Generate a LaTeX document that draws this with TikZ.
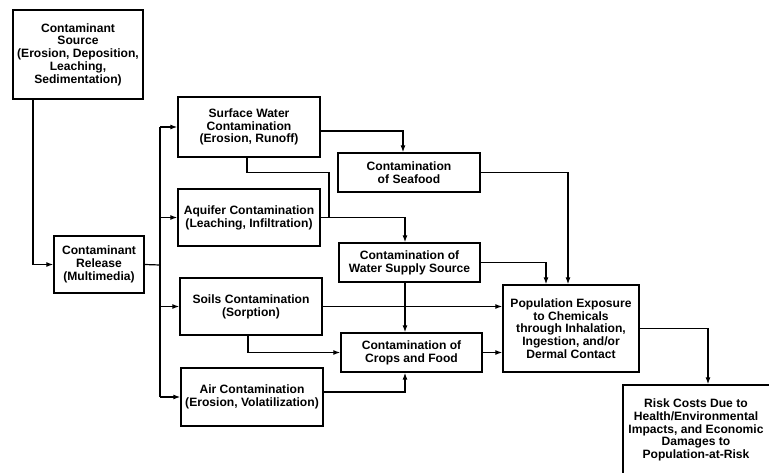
\documentclass[tikz,border=0pt]{standalone}
\usepackage{fontspec}
\setmainfont{Liberation Sans}
\usepackage{tikz}
\usetikzlibrary{arrows.meta}

\begin{document}
\begin{tikzpicture}[x=1pt, y=-1pt, >={Latex[length=7pt,width=5pt]}, line width=1.2pt]
	\useasboundingbox (0,0) rectangle (769,472);
	\tikzstyle{every node} = [draw, rectangle, align=center, line width=1.4pt, inner sep=1pt, font=\fontsize{12.1}{12.8}\selectfont\bfseries]
	\node[minimum width=130, minimum height=89] (src) at (78,54.5) {Contaminant\\Source\\(Erosion, Deposition,\\Leaching,\\Sedimentation)};
	\node[minimum width=90, minimum height=57] (rel) at (99,264.5) {Contaminant\\Release\\(Multimedia)};
	\node[minimum width=142, minimum height=60] (surf) at (249,127) {Surface Water\\Contamination\\(Erosion, Runoff)};
	\node[minimum width=142, minimum height=57] (aqu) at (249,217.5) {Aquifer Contamination\\(Leaching, Infiltration)};
	\node[minimum width=142, minimum height=57] (soil) at (251,306.5) {Soils Contamination\\(Sorption)};
	\node[minimum width=142, minimum height=58] (air) at (252,397) {Air Contamination\\(Erosion, Volatilization)};
	\node[minimum width=142, minimum height=39] (sea) at (409,172.5) {Contamination\\of Seafood};
	\node[minimum width=141, minimum height=39] (wat) at (409.5,262.5) {Contamination of\\Water Supply Source};
	\node[minimum width=141, minimum height=39] (crop) at (411.5,352.5) {Contamination of\\Crops and Food};
	\node[minimum width=136, minimum height=87] (pop) at (571,328.5) {Population Exposure\\to Chemicals\\through Inhalation,\\Ingestion, and/or\\Dermal Contact};
	% box runs off the page edge, text sits inside
	\node[minimum width=166, minimum height=96] (risk) at (706,433) {};
	\node[draw=none] (risktxt) at (696,430) {Risk Costs Due to\\Health/Environmental\\Impacts, and Economic\\Damages to\\Population-at-Risk};
	\coordinate (bus) at (160,265);
	\coordinate (join) at (329,217);
	\draw [->] ([xshift=-45]src.south) |- (rel.west);
	\draw (rel.east) -- (bus);
	\draw (bus |- surf.west) -- (bus |- air.west);
	\foreach \n in {surf, aqu, soil, air}
		\draw [->] (bus |- \n.west) -- (\n.west);
	\draw [->] ([yshift=-4]surf.east) -| ([xshift=-6]sea.north);
	\draw ([xshift=-2]surf.south) -- ++(0,15) -| (join);
	\draw [->] (aqu.east) -| ([xshift=-4.5]wat.north);
	\draw [->] (sea.east) -| ([xshift=-3]pop.north);
	\draw [->] (wat.east) -| ([xshift=-25]pop.north);
	\draw [->] ([xshift=-4.5]wat.south) -- ([xshift=-6.5]crop.north);
	\draw [->] (soil.east) -- (soil.east -| pop.west);
	\draw [->] ([xshift=-3]soil.south) |- (crop.west);
	\draw [->] (crop.east) -- (crop.east -| pop.west);
	\draw [->] ([yshift=5]air.east) -| ([xshift=-6.5]crop.south);
	\draw [->] (pop.east) -| ([xshift=2]risk.north);
\end{tikzpicture}
\end{document}
